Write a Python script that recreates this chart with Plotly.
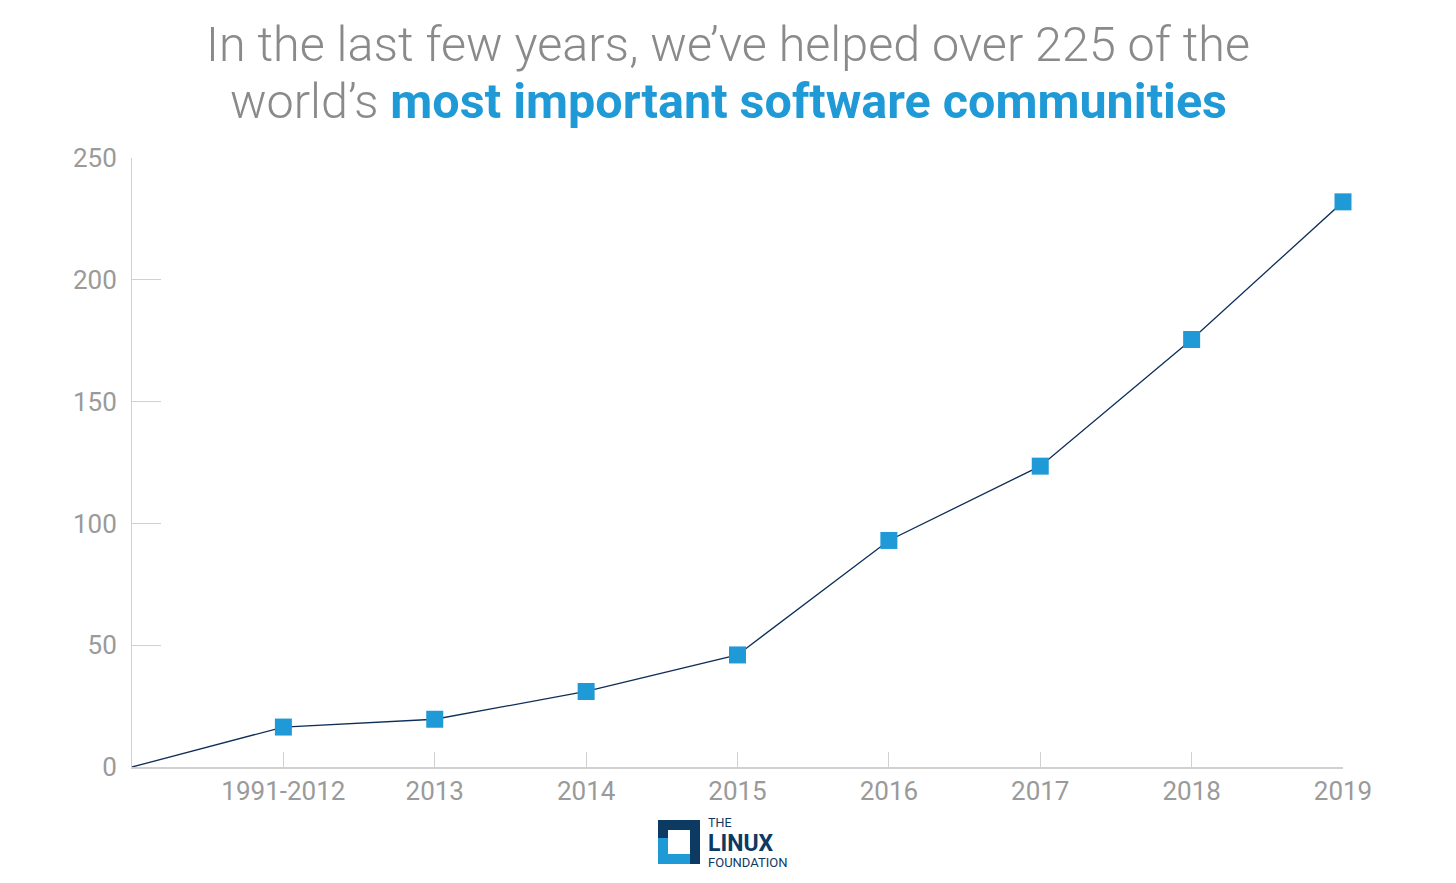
import plotly.graph_objects as go

categories = ["1991-2012", "2013", "2014", "2015", "2016", "2017", "2018", "2019"]
values = [16.4, 19.6, 31, 46, 93, 123.5, 175.5, 232]

OFF = 8  # page body margin
W, H = 1456 - 2 * OFF, 883 - 2 * OFF
L, R, T, B = 132 - OFF, 1343 - OFF, 158 - OFF, 767 - OFF

def px(x):
    return (x - OFF - L) / (R - L)

def py(y):
    return (B - (y - OFF)) / (B - T)

xs = list(range(1, len(categories) + 1))
fig = go.Figure()
fig.add_trace(go.Scatter(x=[0] + xs, y=[0] + values, mode="lines",
                         line=dict(color="#0d2e57", width=1.3), hoverinfo="skip", cliponaxis=False))
fig.add_trace(go.Scatter(x=xs, y=values, mode="markers", cliponaxis=False,
                         marker=dict(symbol="square", size=17, color="#1f9ad6")))

axis_font = dict(family="Roboto", size=26, color="#9a9a9a")
fig.update_layout(
    width=W, height=H, showlegend=False,
    paper_bgcolor="white", plot_bgcolor="white",
    margin=dict(l=L, r=W - R, t=T, b=H - B),
    xaxis=dict(range=[0, 8], tickmode="array", tickvals=xs, ticktext=categories,
               showgrid=False, zeroline=False, showline=True, linecolor="#d0d0d0", linewidth=2,
               ticks="inside", ticklen=15, tickcolor="#d0d0d0", tickfont=axis_font, ticklabelstandoff=0),
    yaxis=dict(range=[0, 250], tickvals=[0, 50, 100, 150, 200, 250],
               showgrid=False, zeroline=False, showline=True, linecolor="#d0d0d0", linewidth=1,
               ticks="inside", ticklen=29, tickcolor="#d0d0d0", tickfont=axis_font, ticklabelstandoff=9),
)

title_font = dict(family="Roboto Light", size=48.5, color="#8a8a8a")
fig.add_annotation(text="In the last few years, we\u2019ve helped over 225 of the",
                   x=px(728), y=py(45), xref="paper", yref="paper", xanchor="center", yanchor="middle",
                   showarrow=False, font=title_font)
fig.add_annotation(text="world\u2019s <span style='font-family:Roboto;font-weight:bold;color:#1f9ad6'>most important software communities</span>",
                   x=px(728), y=py(102), xref="paper", yref="paper", xanchor="center", yanchor="middle",
                   showarrow=False, font=title_font)

shapes = [
    dict(type="rect", x0=px(658), x1=px(700), y0=py(864), y1=py(820), fillcolor="#0d3a63", line=dict(width=0)),
    dict(type="rect", x0=px(668), x1=px(690), y0=py(854), y1=py(830), fillcolor="white", line=dict(width=0)),
    dict(type="rect", x0=px(658), x1=px(668), y0=py(864), y1=py(838), fillcolor="#1f9ad6", line=dict(width=0)),
    dict(type="rect", x0=px(658), x1=px(690), y0=py(864), y1=py(854), fillcolor="#1f9ad6", line=dict(width=0)),
]
for s in shapes:
    s.update(xref="paper", yref="paper", layer="above")
fig.update_layout(shapes=shapes)

ann = [
    ("THE", 823, 12.5),
    ("<b>LINUX</b>", 843, 23),
    ("FOUNDATION", 862, 13),
]
for t, y, s in ann:
    fig.add_annotation(text=t, x=px(707), y=py(y), xref="paper", yref="paper",
                       xanchor="left", yanchor="middle", showarrow=False, borderpad=0,
                       font=dict(family="Roboto", size=s, color="#0d3a63"))

fig.write_html("out.html")
